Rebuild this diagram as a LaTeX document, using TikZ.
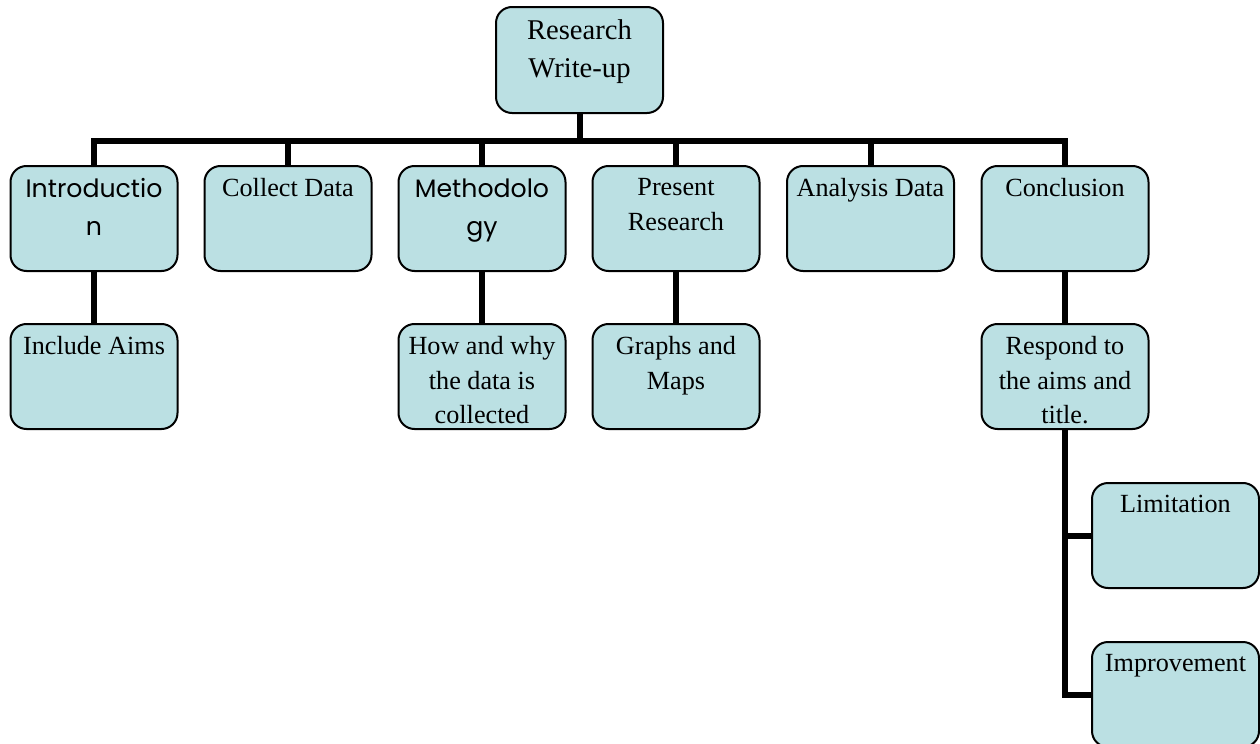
\documentclass[tikz,border=0pt]{standalone}
\usepackage{fontspec}
\setmainfont{Liberation Serif}
\newfontfamily\gothfont{Poppins}
\usepackage{tikz}
\usetikzlibrary{positioning}
\definecolor{boxfill}{RGB}{187,224,227}

\begin{document}
\begin{tikzpicture}[x=0.5pt, y=-0.5pt,
  box/.style={rectangle, rounded corners=8pt, draw=black, line width=1pt, fill=boxfill,
              minimum width=83.5pt, minimum height=52.5pt, inner sep=0pt},
  txt/.style={anchor=north, yshift=-6.5pt, inner sep=0pt, align=center,
              font=\fontsize{13.1}{17.3}\selectfont},
  sans/.style={txt, font=\gothfont\fontsize{12.6}{19}\selectfont},
  link/.style={line width=3pt}]
  \useasboundingbox (0,0) rectangle (1260,744);
  % top
  \node[box, minimum height=53pt,
        label={[txt, font=\fontsize{14.3}{19.3}\selectfont]north:{Research\\Write-up}}] (top) at (579.5,60) {};
  % first row
  \node[box, label={[sans]north:{Introductio\\n}}]      (intro)    at (94,218.5)   {};
  \node[box, label={[txt]north:{Collect Data}}]         (collect)  at (288,218.5)  {};
  \node[box, label={[sans]north:{Methodolo\\gy}}]       (method)   at (482,218.5)  {};
  \node[box, label={[txt]north:{Present\\Research}}]    (present)  at (676,218.5)  {};
  \node[box, label={[txt]north:{Analysis Data}}]        (analysis) at (870.5,218.5){};
  \node[box, label={[txt]north:{Conclusion}}]           (concl)    at (1065,218.5) {};
  % second row
  \node[box, label={[txt]north:{Include Aims}}]         (aims)     at (94,376.5)   {};
  \node[box, label={[txt]north:{How and why\\the data is\\collected}}] (howwhy) at (482,376.5) {};
  \node[box, label={[txt]north:{Graphs and\\Maps}}]     (graphs)   at (676,376.5)  {};
  \node[box, label={[txt]north:{Respond to\\the aims and\\title.}}]  (respond) at (1065,376.5) {};
  % conclusion branch
  \node[box, label={[txt]north:{Limitation}}]           (limit)    at (1175.5,535.5) {};
  \node[box, label={[txt]north:{Improvement}}]          (improve)  at (1175.5,694.5) {};

  \coordinate (bus) at (579.5,141);
  \draw[link] (top.south) -- (top.south |- bus);
  \draw[link] (intro.north) |- (bus) -| (concl.north);
  \draw[link] (collect.north) -- (collect.north |- bus);
  \draw[link] (method.north) -- (method.north |- bus);
  \draw[link] (present.north) -- (present.north |- bus);
  \draw[link] (analysis.north) -- (analysis.north |- bus);
  \draw[link] (intro) -- (aims);
  \draw[link] (method) -- (howwhy);
  \draw[link] (present) -- (graphs);
  \draw[link] (concl) -- (respond);
  \draw[link] (respond.south) |- (improve.west);
  \draw[link] (respond.south |- limit.west) -- (limit.west);
\end{tikzpicture}
\end{document}
